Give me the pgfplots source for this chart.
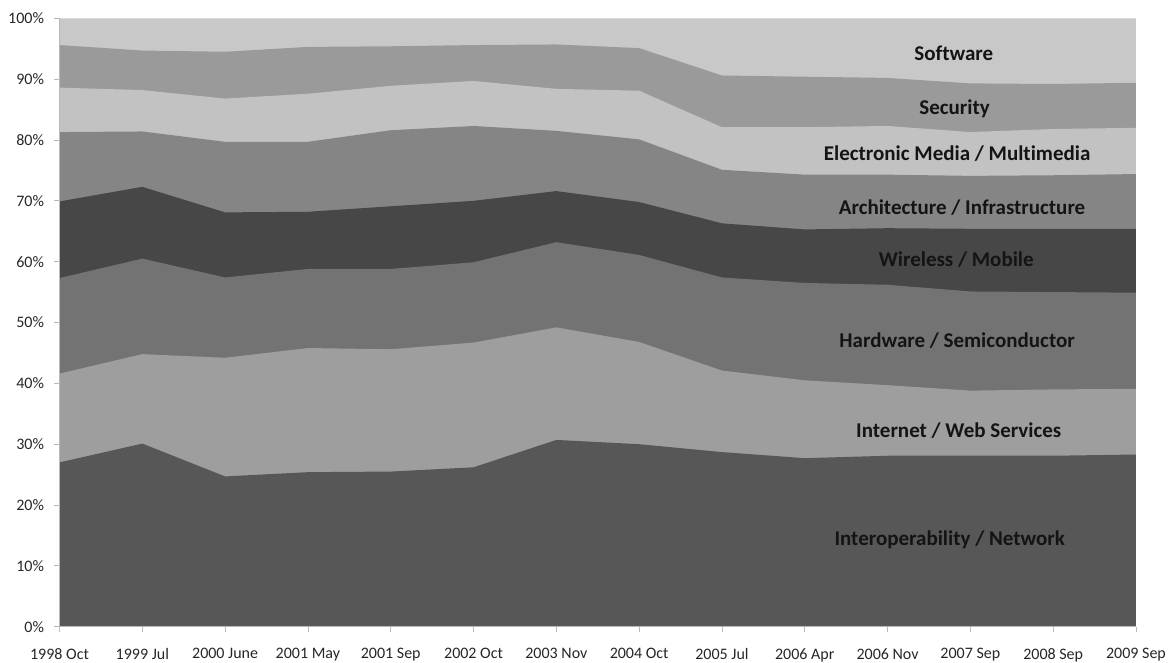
\documentclass[border=0pt]{standalone}
\usepackage{fontspec}
\setmainfont{Carlito}[Ligatures=NoCommon]
\usepackage{pgfplots}
\pgfplotsset{compat=1.18}
\usepackage{pgfplotstable}

\definecolor{cInterop}{RGB}{87,87,87}
\definecolor{cInternet}{RGB}{158,158,158}
\definecolor{cHardware}{RGB}{115,115,115}
\definecolor{cWireless}{RGB}{71,71,71}
\definecolor{cArch}{RGB}{133,133,133}
\definecolor{cElec}{RGB}{194,194,194}
\definecolor{cSec}{RGB}{154,154,154}
\definecolor{cSoft}{RGB}{200,200,200}

% cumulative shares (top edge of each band), in percent
\pgfplotstableread{
x  B1   B2   B3   B4   B5   B6   B7   B8
0  27.0 41.6 57.3 69.9 81.3 88.6 95.6 100
1  30.1 44.8 60.5 72.3 81.4 88.2 94.7 100
2  24.7 44.2 57.4 68.1 79.7 86.8 94.5 100
3  25.4 45.8 58.8 68.2 79.7 87.6 95.3 100
4  25.5 45.6 58.8 69.1 81.6 88.9 95.4 100
5  26.2 46.7 59.9 70.0 82.3 89.7 95.6 100
6  30.7 49.2 63.2 71.6 81.5 88.4 95.7 100
7  30.0 46.8 61.1 69.8 80.1 88.1 95.1 100
8  28.7 42.1 57.4 66.3 75.1 82.1 90.6 100
9  27.7 40.5 56.5 65.3 74.3 82.1 90.4 100
10 28.1 39.7 56.2 65.5 74.3 82.3 90.2 100
11 28.1 38.8 55.1 65.4 74.1 81.3 89.3 100
12 28.1 39.0 55.0 65.4 74.2 81.8 89.2 100
13 28.3 39.1 54.9 65.4 74.4 82.0 89.4 100
}\datatable

\begin{document}
\begin{tikzpicture}
\path[use as bounding box] (-59.5pt,-35.3pt) rectangle (1109.5pt,626.7pt);
\begin{axis}[
  at={(0pt,0pt)}, anchor=south west,
  scale only axis, width=1076.5pt, height=608.4pt,
  xmin=0, xmax=13, ymin=0, ymax=100,
  axis x line*=bottom, axis y line*=left,
  axis line style={draw=gray!55, line width=0.8pt},
  axis on top,
  xtick={0,...,13},
  xticklabels={1998 Oct,1999 Jul,2000 June,2001 May,2001 Sep,2002 Oct,2003 Nov,2004 Oct,2005 Jul,2006 Apr,2006 Nov,2007 Sep,2008 Sep,2009 Sep},
  ytick={0,10,...,100},
  yticklabels={0\%,10\%,20\%,30\%,40\%,50\%,60\%,70\%,80\%,90\%,100\%},
  tick style={draw=gray!55, line width=0.8pt},
  tick align=outside, major tick length=5pt,
  tick label style={font=\fontsize{16}{19}\selectfont, text=black!85},
  xticklabel style={yshift=-13pt},
  yticklabel style={xshift=-7pt},
]
\addplot[fill=cSoft, draw=none] table[x=x,y=B8]{\datatable} \closedcycle;
\addplot[fill=cSec, draw=none] table[x=x,y=B7]{\datatable} \closedcycle;
\addplot[fill=cElec, draw=none] table[x=x,y=B6]{\datatable} \closedcycle;
\addplot[fill=cArch, draw=none] table[x=x,y=B5]{\datatable} \closedcycle;
\addplot[fill=cWireless, draw=none] table[x=x,y=B4]{\datatable} \closedcycle;
\addplot[fill=cHardware, draw=none] table[x=x,y=B3]{\datatable} \closedcycle;
\addplot[fill=cInternet, draw=none] table[x=x,y=B2]{\datatable} \closedcycle;
\addplot[fill=cInterop, draw=none] table[x=x,y=B1]{\datatable} \closedcycle;

\begin{scope}[every node/.style={font=\bfseries\fontsize{21}{25}\selectfont, text=black!92}]
\node at (axis cs:10.80,94.3) {Software};
\node at (axis cs:10.81,85.2) {Security};
\node at (axis cs:10.84,77.8) {Electronic Media / Multimedia};
\node at (axis cs:10.90,68.9) {Architecture / Infrastructure};
\node at (axis cs:10.83,60.3) {Wireless / Mobile};
\node at (axis cs:10.84,47.1) {Hardware / Semiconductor};
\node at (axis cs:10.86,32.3) {Internet / Web Services};
\node at (axis cs:10.75,14.3) {Interoperability / Network};
\end{scope}
\end{axis}
\end{tikzpicture}
\end{document}
